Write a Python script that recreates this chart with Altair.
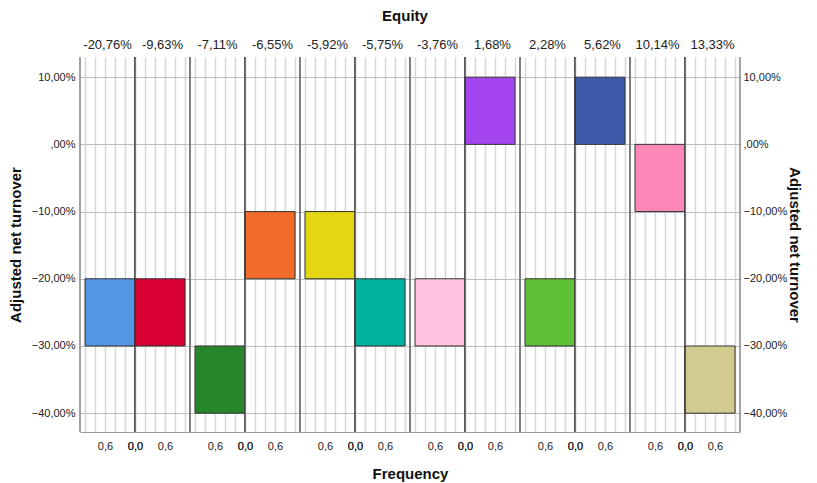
import altair as alt
import pandas as pd

# ---- data ----
equity = ["-20,76%", "-9,63%", "-7,11%", "-6,55%", "-5,92%", "-5,75%",
          "-3,76%", "1,68%", "2,28%", "5,62%", "10,14%", "13,33%"]
bin_low = [-30, -30, -40, -20, -20, -30, -30, 0, -30, 0, -10, -40]
bin_high = [-20, -20, -30, -10, -10, -20, -20, 10, -20, 10, 0, -30]
frequency = [1, 1, 1, 1, 1, 1, 1, 1, 1, 1, 1, 1]
colors = ["#5596E6", "#D60032", "#28862A", "#F26B2A", "#E2D712", "#00B39F",
          "#FFC3E1", "#A445F0", "#5FC236", "#3D5AAA", "#FF87B8", "#D1CB90"]
y_ticks = [-40, -30, -20, -10, 0, 10]
x_grid = [0, 0.2, 0.4, 0.6, 0.8, 1.0]

FONT = "Liberation Sans"
PW, PH = 55, 375

y_label_expr = ("datum.value == 0 ? ',00%' : "
                "replace(format(datum.value, '.2f'), '.', ',') + '%'")
x_label_expr = ("(datum.value == 0 || abs(datum.value - 0.6) < 0.001) ? "
                "replace(format(datum.value, '.1f'), '.', ',') : ''")

y_scale = alt.Scale(domain=[-42.8, 13], nice=False, zero=False)

panels = []
n = len(equity)
for i in range(n):
    df = pd.DataFrame({
        "equity": [equity[i]],
        "lo": [bin_low[i]],
        "hi": [bin_high[i]],
        "freq": [frequency[i]],
    })
    reverse = (i % 2 == 0)
    common_y = dict(values=y_ticks, grid=True, gridColor="#bdbdbd", gridWidth=1,
                    ticks=False, domain=False)
    if i == 0:
        yaxis = alt.Axis(orient="left", labelExpr=y_label_expr, labelFontSize=11,
                         labelColor="#222", labelPadding=5,
                         title="Adjusted net turnover", titleFontSize=15,
                         titleFontWeight="bold", titleColor="#111", titlePadding=8,
                         **common_y)
    elif i == n - 1:
        yaxis = alt.Axis(orient="right", labelExpr=y_label_expr, labelFontSize=11,
                         labelColor="#222", labelPadding=3,
                         title="Adjusted net turnover", titleFontSize=15,
                         titleFontWeight="bold", titleColor="#111", titlePadding=0,
                         **common_y)
    else:
        yaxis = alt.Axis(labels=False, title=None, **common_y)

    xkw = dict(values=x_grid, labelExpr=x_label_expr, labelFontSize=11,
               labelColor="#222", labelPadding=8, ticks=False, domain=True,
               domainColor="#999999", grid=True, gridColor="#d6d6d6", gridWidth=1.5,
               labelFlush=False, labelOverlap=False)
    if i == 5:
        xaxis = alt.Axis(title="Frequency", titleFontSize=15, titleFontWeight="bold",
                         titleColor="#111", titleX=PW, titleY=34, titleAlign="center",
                         **xkw)
    else:
        xaxis = alt.Axis(title=None, **xkw)

    x_scale = alt.Scale(domain=[0, 1.1], nice=False, zero=False, reverse=reverse)
    base = alt.Chart(df)
    bars = base.mark_rect(color=colors[i], stroke="#333333", strokeWidth=1).encode(
        x=alt.X("freq:Q", scale=x_scale, axis=xaxis),
        x2=alt.X2Datum(0),
        y=alt.Y("lo:Q", scale=y_scale, axis=yaxis),
        y2="hi:Q",
    )
    rule0 = base.mark_rule(color="#333333", strokeWidth=1.2).encode(
        x=alt.XDatum(0, scale=x_scale, axis=xaxis))
    rule1 = base.mark_rule(color="#666666", strokeWidth=1.2).encode(
        x=alt.XDatum(1.1, scale=x_scale, axis=xaxis))
    panel = alt.layer(bars, rule0, rule1).properties(
        width=PW, height=PH,
        title=alt.TitleParams(equity[i], fontSize=13, fontWeight="normal",
                              color="#222", offset=4, anchor="middle"),
    )
    panels.append(panel)

chart = alt.hconcat(*panels, spacing=0, bounds="flush").properties(
    title=alt.TitleParams("Equity", fontSize=15, fontWeight="bold", color="#111",
                          anchor="middle", offset=15),
    padding={"left": 0, "right": 4, "top": 1, "bottom": 8},
).configure(font=FONT).configure_view(stroke=None)

chart.save("out.html", embed_options={"renderer": "svg", "actions": False})
